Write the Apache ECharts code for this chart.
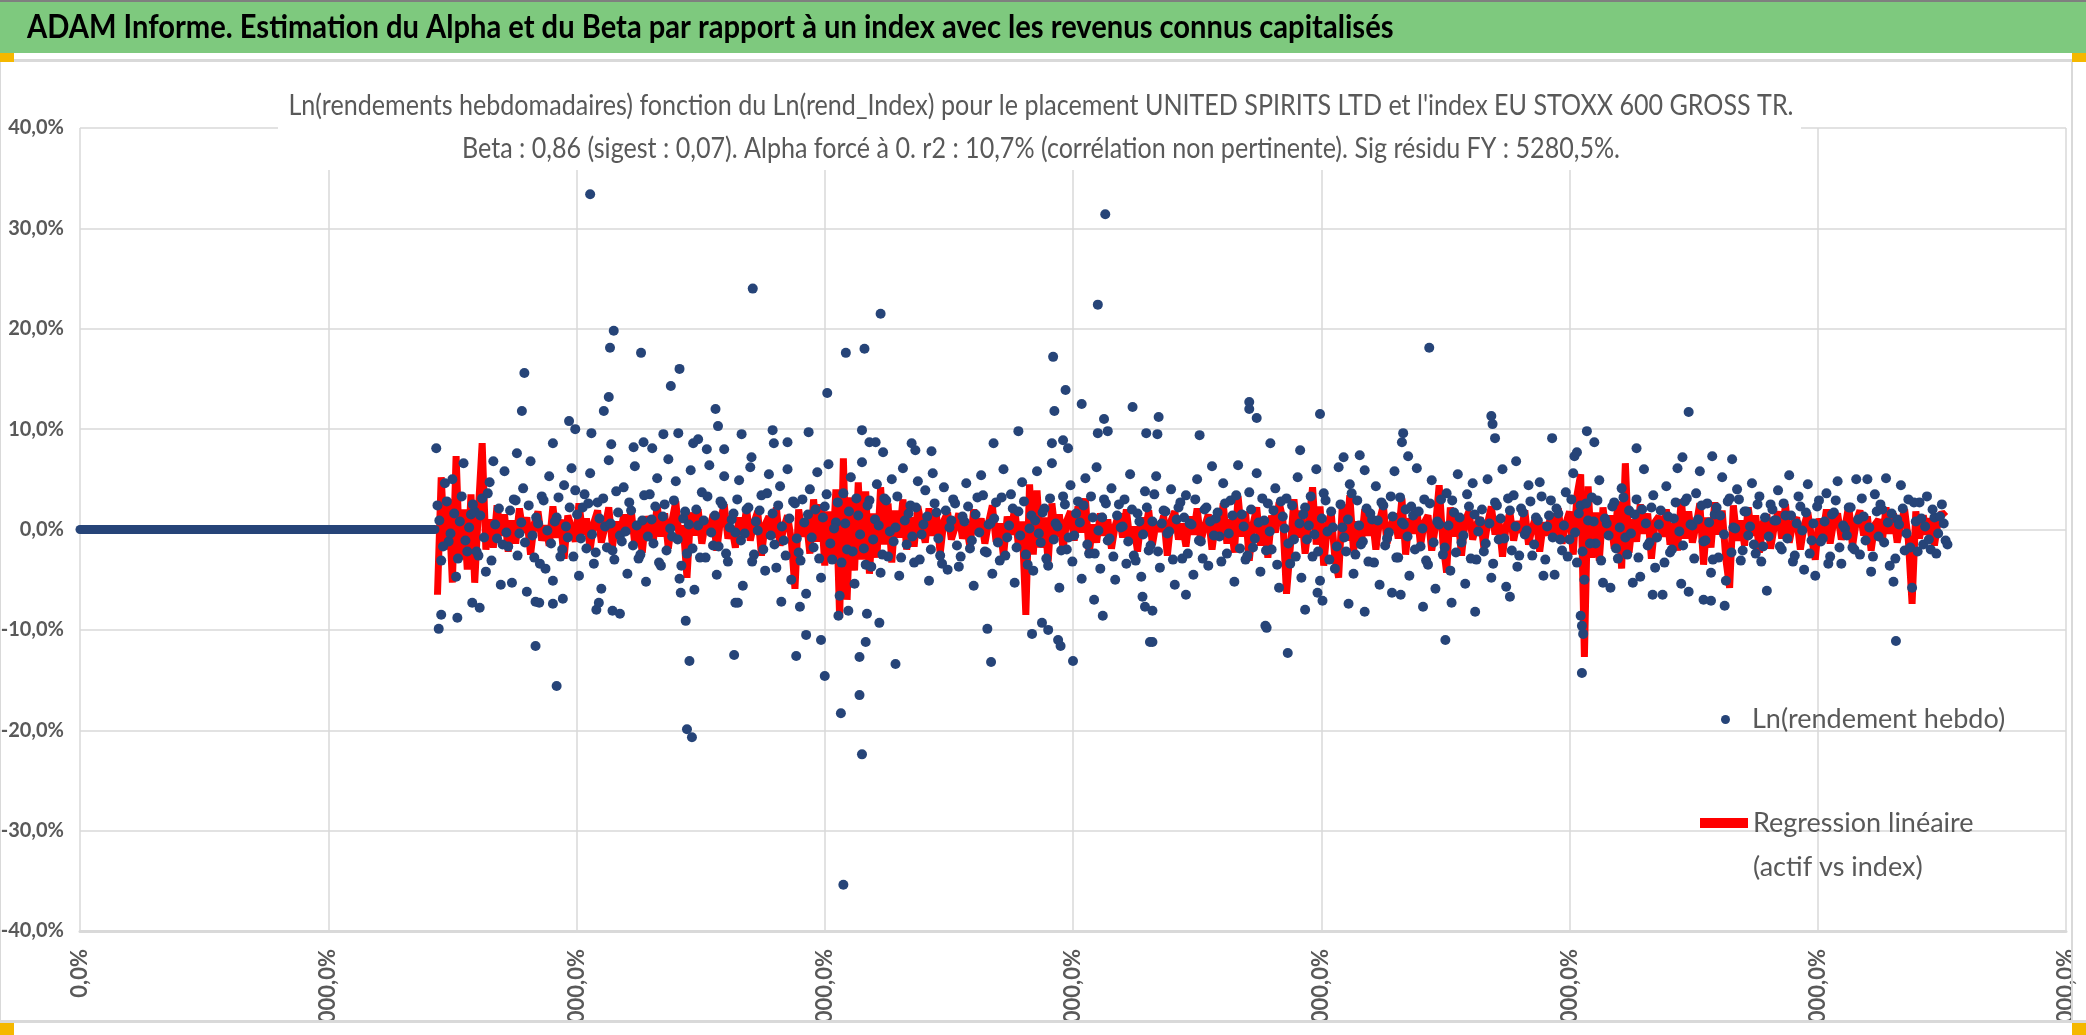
<!DOCTYPE html>
<html>
<head>
    <meta charset="utf-8">
    <title>ADAM Informe - Alpha et Beta</title>
    <script src="https://cdn.jsdelivr.net/npm/echarts@6/dist/echarts.min.js"></script>
    <style>
        html, body { margin: 0; padding: 0; background: #fff; }
        #main { width: 2086px; height: 1035px; }
    </style>
</head>
<body>
<div id="main"></div>
<script type="text/javascript">
    // semaines sans donnees (rendement nul)
    var zeroWeeks = [0, 286];

    // grille hebdo : premiere semaine, decalage de la 2e serie et pas (en semaines)
    var weekStart = 288;
    var weekStart2 = 289.5;
    var weekStep = 3;

    // Ln(rendement hebdo), nuage courant, semaines 288 -> 587
    var rendA = [
        2.4, -3.1, 4.6, -1.2, 5.0, -4.7, 0.8, 6.6, -2.2, 1.5,
        1.8, -2.6, 3.1, -4.2, 4.7, 6.8, -0.9, -5.5, 5.8, -1.7,
        -5.3, 2.9, -0.4, 4.1, -6.2, 6.8, -2.8, 0.6, 3.3, -3.9,
        5.3, -5.1, 1.2, -2.7, 4.4, -0.8, 6.1, 3.9, -4.6, 2.2,
        -1.9, 5.6, -3.4, 2.7, -5.9, 0.3, 6.9, -2.1, 3.8, -0.6,
        4.2, -4.4, 1.9, 6.3, -2.9, 0.9, -5.2, 3.5, -1.4, 5.1,
        -3.6, 2.5, 7.0, -0.7, 4.8, -4.9, 1.1, -2.4, 5.9, -6.0,
        0.4, 3.7, -2.8, 6.4, -1.6, -4.5, 2.8, 5.3, -3.2, 1.0,
        -0.3, 4.9, -5.6, 2.0, 6.2, -2.5, -0.1, 3.4, -4.1, 5.5,
        1.6, -3.8, 4.3, -1.1, 6.0, -5.0, 2.6, -2.3, 3.0, -6.4
    ];
    // semaines 588 -> 887
    var rendB = [
        4.0, -1.8, 5.7, -4.8, 2.3, 6.5, -3.0, 0.7, -6.6, 3.6,
        -2.0, 5.2, -5.4, 1.4, 6.7, -3.5, 2.9, -1.0, 4.5, -4.3,
        3.1, -2.7, 5.0, 0.2, -4.6, 6.1, -1.5, 2.4, -3.3, 4.8,
        -0.5, 3.9, -5.1, 5.6, 1.7, -2.6, 4.2, -4.0, 0.9, 2.6,
        -3.7, 1.3, 4.6, -1.9, -5.6, 3.2, 5.4, -2.2, 0.5, -4.4,
        2.7, -3.1, 6.0, -0.8, 3.5, -5.3, 1.8, 4.7, -2.5, 0.1,
        -4.1, 5.8, -1.3, 2.1, -3.6, 6.6, 0.6, -5.8, 3.3, -2.0,
        4.4, -0.6, 2.8, -4.9, 5.1, -2.4, 1.2, 6.2, -3.9, 3.0,
        -1.1, 4.1, -5.0, 2.5, 0.3, -3.4, 5.5, -2.6, 1.6, -4.7,
        3.8, -2.1, 0.8, 5.3, -3.8, 1.9, -0.4, 4.0, -5.5, 2.2
    ];
    // semaines 888 -> 1187
    var rendC = [
        -2.9, 3.4, 0.6, -4.5, 5.0, -1.2, 2.0, -3.6, 6.3, 1.1,
        -0.7, 4.6, -2.4, 2.9, -5.2, 6.4, 1.5, -3.0, 3.7, -1.8,
        5.6, -4.2, 0.9, 2.6, -2.0, 4.1, -5.8, 1.3, 3.1, -3.4,
        -1.0, 5.2, -4.8, 2.2, 0.4, -2.7, 6.0, -5.1, 3.6, -0.2,
        1.8, -3.9, 6.2, 0.2, -2.2, 4.5, -4.4, 2.9, -1.5, 5.9,
        -3.2, 1.0, 4.3, -5.5, 2.4, -0.9, 3.3, 5.8, -2.8, 0.7,
        2.0, -4.6, 1.4, 6.1, -1.7, 3.0, -3.5, 4.9, -5.9, 0.5,
        -2.5, 3.6, -4.1, 1.7, 5.5, -1.3, -5.4, 2.3, 4.6, -3.0,
        0.8, -2.2, 5.0, -4.8, 2.7, -1.0, 6.0, -5.7, 1.9, 3.4,
        -3.7, 2.1, -0.5, 4.4, -2.6, 1.2, 4.7, -4.6, 0.3, 2.9
    ];
    // semaines 1188 -> 1503
    var rendD = [
        -4.5, 1.6, -2.1, 3.7, -1.0, 5.6, -3.3, 2.4, -5.0, 0.9,
        3.2, -1.4, 4.9, -5.3, 0.6, -5.8, 2.7, -2.9, 4.1, -0.8,
        1.9, -5.3, 3.0, -4.7, 6.0, -1.6, 2.2, -3.8, 0.5, -6.5,
        4.3, -2.3, 1.1, 6.1, -5.4, 2.8, -6.2, 0.4, 3.6, 5.8,
        -1.2, 2.6, -4.3, 1.5, -2.8, 5.2, -5.1, 3.1, 0.2, 4.0,
        -3.1, 1.8, -0.6, 4.6, -2.4, 3.3, -1.7, -6.1, 2.5, 0.9,
        3.9, -2.0, 1.4, 5.4, -3.2, 0.6, 2.3, -4.0, 4.5, -1.1,
        -4.6, 2.9, -0.9, 3.6, -2.7, 1.7, 4.8, -3.4, 0.1, 2.2,
        -1.8, 5.0, -2.5, 1.3, 5.0, -4.2, 3.5, -0.7, 2.0, 5.1,
        -3.6, -5.2, 1.0, 4.4, -2.1, 3.0, -5.8, 0.8, 2.7, -1.5,
        3.3, -2.0, 1.2, -0.4, 2.5, -1.1
    ];

    // cœur du nuage (semaines intercalees, 289.5 -> 1504.5)
    var rendE = [
        0.9, -1.7, 2.8, -0.4, 1.6, -2.9, 3.3, -1.1, 0.2, 2.5,
        -2.2, 1.4, -0.8, 3.6, -3.1, 0.5, 2.1, -1.5, -0.3, 1.9,
        3.0, -2.6, 0.7, -1.3, 2.4, -0.6, 1.2, -3.4, 2.9, -0.1,
        -1.4, 0.8, 3.2, -2.0, 0.3, 2.2, -2.7, 1.5, -0.9, 3.5,
        2.6, -0.5, -2.3, 1.1, 3.1, -1.8, 0.6, -3.0, 1.7, -1.2,
        -0.2, 2.7, -1.6, 0.4, -2.5, 3.4, -0.7, 1.0, 2.3, -3.3,
        1.3, -2.1, 0.1, 2.9, -1.0, -3.6, 1.8, 0.5, -1.9, 2.0,
        -2.8, 0.9, 3.3, -0.3, 1.4, -1.7, 2.5, -2.4, 0.2, 1.6,
        3.0, -1.1, -0.4, 2.2, -3.2, 0.8, 1.9, -2.0, 3.6, -0.6,
        -1.5, 2.4, 0.3, -2.6, 1.1, 2.8, -0.9, -3.1, 0.7, 1.5
    ];
    var rendF = [
        -0.8, 2.0, -2.9, 1.2, 3.5, -1.4, 0.1, 2.7, -3.3, 0.6,
        1.8, -2.2, 3.1, -0.5, -1.9, 2.4, -3.7, 1.0, 0.4, -2.5,
        2.9, -0.2, -1.2, 3.3, -2.8, 0.9, 1.6, -0.7, 2.2, -3.0,
        0.5, 1.3, -2.0, 2.6, -0.9, -3.4, 1.9, 0.2, 3.0, -1.6,
        -2.7, 0.8, 2.3, -1.1, 1.5, -0.3, 3.4, -2.3, 0.6, 1.1,
        -1.3, 3.2, -2.6, 0.4, 2.1, -1.8, -0.6, 2.8, -3.5, 1.4,
        0.9, -0.4, 1.7, -2.9, 3.1, -1.0, 0.3, -2.1, 2.5, -0.8,
        -3.2, 1.6, 0.7, 2.4, -1.5, 3.3, -2.4, -0.1, 1.2, 2.6,
        -0.9, -2.7, 1.4, 0.2, 3.0, -1.2, 2.0, -3.1, 0.8, -0.5,
        2.2, -1.6, 3.5, -2.2, 0.6, 1.8, -0.2, -3.0, 1.0, 2.7
    ];
    var rendG = [
        1.2, -2.4, 0.5, 3.0, -1.1, -2.9, 2.2, 0.8, -0.6, 1.7,
        -3.2, 2.6, -0.4, 1.4, 3.4, -1.9, 0.3, -2.6, 2.0, -0.9,
        0.7, 3.1, -2.1, -0.2, 1.9, -3.5, 2.8, 0.1, -1.4, 2.4,
        -2.7, 0.6, 1.5, -1.0, 3.3, -0.5, -2.2, 1.1, 2.9, -3.0,
        0.2, -1.7, 2.5, -0.8, 1.0, 3.6, -2.5, 0.4, -1.2, 2.1,
        1.6, -3.3, 0.9, 2.7, -1.6, -0.3, 1.3, -2.8, 3.2, 0.5,
        -0.7, 2.3, -2.0, 1.8, 0.1, -3.1, 2.6, -1.3, 0.8, 3.0,
        -1.8, 0.4, 2.9, -2.3, 1.2, -0.6, 3.5, -2.9, 1.5, -0.2,
        2.0, -1.4, 0.6, -3.4, 2.4, 1.1, -0.9, 3.1, -2.1, 0.3,
        -2.6, 1.7, -0.1, 2.8, -1.5, 0.9, 3.3, -3.0, 1.4, -0.8
    ];
    var rendH = [
        2.1, -1.0, 0.4, -2.7, 3.0, -0.3, 1.6, -2.2, 2.6, -1.4,
        0.8, 2.9, -3.1, 1.1, -0.6, 2.3, -1.9, 0.2, 3.2, -2.5,
        -0.4, 1.5, -2.8, 2.0, 0.6, -1.3, 3.4, -0.8, 1.9, -3.3,
        1.3, -2.0, 2.7, -0.2, -1.6, 3.1, 0.5, -2.9, 1.0, 2.4,
        -1.1, 0.7, -3.0, 2.2, 1.4, -0.5, 2.8, -2.3, 0.1, 3.0,
        -2.1, 1.8, 0.3, -1.5, 2.5, -3.2, 1.2, -0.7, 2.0, 0.9,
        -1.7, 2.6, -0.9, 1.4, -2.6, 3.3, -0.1, 1.7, -2.4, 0.6,
        2.3, -1.2, 0.8, -3.4, 1.5, 2.9, -1.8, 0.4, -0.6, 2.2,
        -2.0, 1.0, 3.1, -1.1, 0.2, -2.7, 1.8, 2.5, -1.3, 0.7,
        1.6, -2.9, 0.5, 2.1, -0.4, -1.8, 2.7, -2.2, 1.1, 0.3,
        -1.0, 2.0, -2.4, 1.3, 0.6, -1.5
    ];

    // points extremes [semaine, Ln(rendement) %]
    var extremes = [
        [287, 8.1], [289, -9.9], [291, -8.5], [304, -8.8], [316, -7.3], [322, -7.8],
        [352, 7.6], [356, 11.8], [358, 15.6], [367, -11.6], [367, -7.2], [370, -7.3],
        [381, 8.6], [381, -7.4], [384, -15.6], [389, -6.9], [394, 10.8], [399, 10.0],
        [411, 33.4], [412, 9.6], [416, -8.0], [418, -7.3], [422, 11.8], [426, 13.2],
        [427, 18.1], [428, 8.5], [429, -8.1], [430, 19.8], [435, -8.4], [446, 8.2],
        [452, 17.6], [454, 8.7], [461, 8.1], [470, 9.5], [476, 14.3], [482, 9.6],
        [483, 16.0], [484, -6.3], [488, -9.1], [489, -19.9], [491, -13.1], [493, -20.7],
        [494, 8.6], [498, 9.0], [505, 8.0], [512, 12.0], [514, 10.3], [519, 8.0],
        [527, -12.5], [528, -7.3], [530, -7.3], [533, 9.5], [541, 7.2], [542, 24.0],
        [558, 9.9], [559, 8.6], [565, -7.2], [570, 8.7], [577, -12.6], [580, -7.7],
        [585, -10.5], [587, 9.7],
        [597, -11.0], [600, -14.6], [602, 13.6], [611, -8.6], [613, -18.3], [615, -35.4],
        [617, 17.6], [619, -8.1], [628, -12.7], [628, -16.5], [630, -22.4], [630, 9.9],
        [632, 18.0], [633, -11.2], [634, -8.4], [636, 8.7], [641, 8.7], [644, -9.3],
        [645, 21.5], [647, 7.7], [657, -13.4], [670, 8.6], [673, 7.9], [686, 7.8],
        [731, -9.9], [734, -13.2], [736, 8.6], [756, 9.8], [767, -10.4], [775, -9.3],
        [780, -10.0], [783, 8.6], [784, 17.2], [785, 11.8], [788, -11.0], [790, -11.6],
        [792, 8.9], [794, 13.9], [796, 8.1], [800, -13.1], [807, 12.5], [817, -7.0],
        [820, 22.4], [820, 9.6], [824, -8.6], [825, 11.0], [826, 31.4], [828, 9.8],
        [848, 12.2], [856, -6.7], [858, -7.7], [859, 9.6], [862, -11.2], [864, -11.2],
        [864, -8.1], [868, 9.5], [869, 11.2],
        [891, -6.5], [902, 9.4], [942, 12.7], [942, 12.0], [948, 11.1], [955, -9.6],
        [956, -9.8], [959, 8.6], [973, -12.3], [983, 7.9], [987, -8.0], [997, -6.3],
        [999, 11.5], [1001, -7.1], [1018, 7.2], [1022, -7.4], [1031, 7.4], [1035, -8.2],
        [1057, -6.3], [1064, -6.5], [1065, 8.7], [1066, 9.6], [1070, 7.3], [1082, -7.7],
        [1087, 18.1], [1100, -11.0], [1105, -7.3], [1124, -8.2], [1137, 11.3], [1138, 10.5],
        [1140, 9.1], [1152, -6.7], [1157, 6.8], [1186, 9.1],
        [1204, 7.3], [1206, 7.7], [1209, -8.6], [1210, -14.3], [1210, -9.6], [1211, -10.4],
        [1214, 9.8], [1220, 8.7], [1254, 8.1], [1267, -6.5], [1291, 7.2], [1296, 11.7],
        [1308, -7.0], [1314, -7.1], [1315, 7.3], [1325, -7.6], [1331, 7.0], [1463, -11.1]
    ];

    // Regression lineaire (beta x rend_Index), semaines 288 -> 587
    var regA = [
        -6.5, 5.2, -2.0, 3.0, -5.3, 7.3, -3.0, 2.0, -4.0, 3.5,
        -5.3, 2.0, 8.6, -2.0, 1.0, -1.8, 2.4, -0.6, 1.5, -2.2,
        0.9, -1.4, 2.1, -0.3, 1.2, -2.5, 0.6, 1.8, -1.1, 0.4,
        -1.6, 2.3, -0.8, 1.0, -2.9, 1.4, 0.2, -1.2, 2.6, -0.5,
        1.1, -2.0, 0.7, 1.9, -1.3, 0.3, 2.2, -1.7, 0.8, -0.9,
        1.5, -0.4, 2.0, -1.5, 0.6, -2.3, 1.3, 0.1, -1.0, 2.4,
        -0.7, 1.6, -1.9, 0.9, 2.8, -1.2, 0.4, -4.8, 1.7, -0.6,
        2.0, -1.4, 0.8, -0.2, 1.5, -2.1, 1.0, 2.5, -0.9, 0.3,
        -1.8, 1.2, -0.5, 2.1, -1.1, 0.7, 1.8, -2.6, 0.5, 1.3,
        -0.8, 2.2, -1.6, 0.2, 1.4, -1.0, -5.9, 2.0, -0.7, 1.1
    ];
    // semaines 588 -> 887
    var regB = [
        -2.4, 3.0, -1.2, 2.5, -3.6, 1.8, -3.2, 4.0, -8.8, 7.1,
        -7.0, 3.2, -4.1, 4.7, -3.0, 3.8, -4.4, 1.6, -2.8, 4.2,
        -1.5, 2.6, -3.3, 1.9, -0.8, 3.0, -2.0, 1.2, -1.7, 2.3,
        0.4, -1.3, 2.1, -0.6, 1.4, -2.4, 0.9, 1.7, -1.0, 0.2,
        1.6, -0.9, 0.5, -1.8, 2.0, -0.4, 1.1, -1.4, 0.7, 2.4,
        -1.2, 0.6, -2.7, 1.3, -0.5, 2.2, -1.6, 0.8, -8.5, 4.5,
        -2.5, 3.9, -1.8, 1.2, -3.2, 2.6, -0.7, 1.5, -2.0, 0.9,
        1.8, -1.1, 2.3, -0.3, 3.1, -2.4, 0.5, -1.3, 1.6, -0.6,
        1.0, -1.9, 0.4, 1.6, -0.8, 2.0, -1.3, 0.3, -2.2, 1.2,
        -0.4, 1.9, -1.5, 0.7, -0.2, 1.4, -2.6, 0.9, 1.8, -1.0
    ];
    // semaines 888 -> 1187
    var regC = [
        0.6, -1.7, 1.3, -0.5, 2.1, -1.2, 0.3, 1.5, -2.0, 0.8,
        -0.9, 2.6, -1.4, 1.0, -2.3, 3.3, -0.7, 1.8, -3.1, 0.5,
        2.2, -1.6, 0.9, -2.8, 1.4, -0.3, 2.7, 1.1, -6.4, -1.9,
        3.0, -0.8, 1.9, -2.4, 0.6, 4.2, -1.5, 2.3, -3.6, 0.4,
        1.7, -2.9, -4.8, 2.5, -1.1, 3.4, -2.2, 0.8, -1.7, 2.0,
        -0.6, 1.3, -2.0, 0.9, 2.4, -1.4, 0.2, 1.6, -0.9, 3.1,
        -2.5, 1.1, -0.4, 2.0, -1.6, 0.7, 1.4, -2.1, 0.3, 4.4,
        -1.3, -4.3, 2.2, -0.7, 1.5, -2.6, 0.9, 1.8, -1.0, 0.5,
        1.2, -1.8, 0.6, 2.3, -0.5, 1.0, -2.7, 0.4, 1.7, -1.1,
        0.8, -0.3, 1.9, -1.5, 0.2, 1.3, -2.2, 0.7, -0.6, 1.6
    ];
    // semaines 1188 -> 1503
    var regD = [
        -0.9, 2.1, -1.4, 0.6, 1.8, -2.5, 3.4, 5.5, -12.7, 4.3,
        -2.8, 1.7, -3.1, 2.2, -0.8, 1.4, -1.9, 2.8, -3.9, 6.6,
        -2.3, 1.0, -1.2, 2.5, -0.4, 1.6, -2.9, 0.8, 1.3, -0.7,
        2.0, -1.5, 0.6, -2.1, 3.0, -0.9, 1.8, -1.3, 0.4, 2.6,
        -3.5, 1.2, -1.8, 2.7, -0.5, 1.9, -3.0, -5.8, 2.4, -1.1,
        0.9, -1.6, 2.2, -0.6, 1.4, -2.3, 0.7, 1.5, -1.9, 0.3,
        1.8, -0.9, 2.5, -1.3, 0.6, 1.2, -2.0, 0.4, 1.7, -0.8,
        -3.0, 1.1, -0.5, 2.0, -1.4, 0.9, 1.6, -1.0, 0.3, 2.4,
        -1.7, 0.8, 1.9, -0.6, 1.3, -2.1, 0.5, 1.0, -1.2, 2.2,
        -0.4, 1.6, -1.3, 0.7, 2.0, -1.1, -7.4, 1.8, -0.9, 1.4,
        -0.5, 1.1, -1.6, 0.8, 1.7, 1.3
    ];

    // libelles
    var mainTitle = "ADAM Informe. Estimation du Alpha et du Beta par rapport à un index avec les revenus connus capitalisés";
    var subTitle1 = "Ln(rendements hebdomadaires) fonction du Ln(rend_Index) pour le placement UNITED SPIRITS LTD et l'index EU STOXX 600 GROSS TR.";
    var subTitle2 = "Beta : 0,86 (sigest : 0,07). Alpha forcé à 0. r2 : 10,7% (corrélation non pertinente). Sig résidu FY : 5280,5%.";
    var nomPoints = "Ln(rendement hebdo)";
    var nomRegression = "Regression linéaire (actif vs index)";

    var police = "Lato, 'Open Sans', sans-serif";
    var bleu = '#264478';
    var gris = '#595959';

    function versSemaines(valeurs, debut) {
        var out = [];
        for (var i = 0; i < valeurs.length; i++) {
            out.push([debut + i * weekStep, valeurs[i]]);
        }
        return out;
    }

    function pct(v) {
        return v.toFixed(1).replace('.', ',') + '%';
    }

    var points = versSemaines(rendA.concat(rendB, rendC, rendD), weekStart)
        .concat(versSemaines(rendE.concat(rendF, rendG, rendH), weekStart2))
        .concat(extremes);
    var regression = versSemaines(regA.concat(regB, regC, regD), weekStart);
    var zeros = zeroWeeks.map(function (w) { return [w, 0]; });

    var myChart = echarts.init(document.getElementById('main'));

    var option = {
        backgroundColor: '#ffffff',
        animation: false,
        textStyle: { fontFamily: police },
        legend: [
            {
                data: [nomPoints],
                left: 1716,
                top: 701,
                itemWidth: 43,
                itemHeight: 9,
                textStyle: { fontFamily: police, fontSize: 27, color: gris }
            },
            {
                data: [nomRegression],
                left: 1690,
                top: 752,
                itemWidth: 48,
                itemHeight: 10,
                formatter: function () { return ' \nRegression linéaire\n(actif vs index)'; },
                lineStyle: { width: 10 },
                textStyle: { fontFamily: police, fontSize: 27, color: gris, lineHeight: 44 }
            }
        ],
        grid: {
            left: 80,
            right: 20,
            top: 128,
            bottom: 104,
            containLabel: false,
            outerBoundsMode: 'none'
        },
        xAxis: {
            type: 'value',
            min: 0,
            max: 1600,
            interval: 200,
            axisLine: { show: true, onZero: false, lineStyle: { color: '#d9d9d9', width: 3 } },
            axisTick: { show: false },
            splitLine: { show: true, lineStyle: { color: '#d9d9d9', width: 1.5 } },
            axisLabel: {
                rotate: 90,
                margin: 18,
                fontSize: 22,
                fontWeight: 'bold',
                color: gris,
                fontFamily: police,
                formatter: function (v) { return pct(v * 100); }
            }
        },
        yAxis: {
            type: 'value',
            min: -40,
            max: 40,
            interval: 10,
            axisLine: { show: false },
            axisTick: { show: false },
            splitLine: { show: true, lineStyle: { color: '#d9d9d9', width: 1.5 } },
            axisLabel: {
                margin: 16,
                fontSize: 20,
                fontWeight: 'bold',
                color: gris,
                fontFamily: police,
                formatter: function (v) { return pct(v); }
            }
        },
        graphic: [
            // bandeau titre
            { type: 'rect', z: 100, shape: { x: 0, y: 0, width: 2086, height: 53 }, style: { fill: '#7ec97e' } },
            { type: 'rect', z: 101, shape: { x: 0, y: 0, width: 2086, height: 2 }, style: { fill: '#7f7f7f' } },
            {
                type: 'text', z: 102, x: 27, y: 27, scaleX: 0.883,
                style: { text: mainTitle, x: 0, y: 0, textAlign: 'left', textVerticalAlign: 'middle',
                         fill: '#000000', font: 'bold 33px ' + police }
            },
            // titre du graphique sur fond blanc
            { type: 'rect', z: 50, shape: { x: 278, y: 72, width: 1523, height: 98 }, style: { fill: '#ffffff' } },
            {
                type: 'text', z: 51, x: 1041, y: 106, scaleX: 0.865,
                style: { text: subTitle1, x: 0, y: 0, textAlign: 'center', textVerticalAlign: 'middle',
                         fill: gris, font: '29px ' + police }
            },
            {
                type: 'text', z: 51, x: 1041, y: 149, scaleX: 0.865,
                style: { text: subTitle2, x: 0, y: 0, textAlign: 'center', textVerticalAlign: 'middle',
                         fill: gris, font: '29px ' + police }
            },
            // cadre et poignees
            { type: 'rect', z: 100, shape: { x: 0, y: 59, width: 2086, height: 3 }, style: { fill: '#d9d9d9' } },
            { type: 'rect', z: 100, shape: { x: 0, y: 1021, width: 2086, height: 14 }, style: { fill: '#ffffff' } },
            { type: 'rect', z: 101, shape: { x: 0, y: 1020, width: 2086, height: 3 }, style: { fill: '#d9d9d9' } },
            { type: 'rect', z: 101, shape: { x: 2071, y: 62, width: 2, height: 959 }, style: { fill: '#d9d9d9' } },
            { type: 'rect', z: 1, shape: { x: 0, y: 62, width: 1, height: 959 }, style: { fill: '#d9d9d9' } },
            { type: 'rect', z: 103, shape: { x: 0, y: 53, width: 14, height: 9 }, style: { fill: '#f5b800' } },
            { type: 'rect', z: 103, shape: { x: 2072, y: 53, width: 14, height: 9 }, style: { fill: '#f5b800' } },
            { type: 'rect', z: 103, shape: { x: 0, y: 1023, width: 14, height: 12 }, style: { fill: '#f5b800' } },
            { type: 'rect', z: 103, shape: { x: 2072, y: 1023, width: 14, height: 12 }, style: { fill: '#f5b800' } }
        ],
        series: [
            {
                name: nomRegression,
                type: 'line',
                data: regression,
                symbol: 'none',
                z: 2,
                lineStyle: { color: '#ff0000', width: 7 },
                itemStyle: { color: '#ff0000' }
            },
            {
                name: 'zeros',
                type: 'line',
                data: zeros,
                symbol: 'none',
                z: 3,
                lineStyle: { color: bleu, width: 9, cap: 'round' }
            },
            {
                name: nomPoints,
                type: 'scatter',
                data: points,
                symbolSize: 10,
                z: 4,
                itemStyle: { color: bleu, opacity: 1 }
            }
        ]
    };

    myChart.setOption(option);
</script>
</body>
</html>
